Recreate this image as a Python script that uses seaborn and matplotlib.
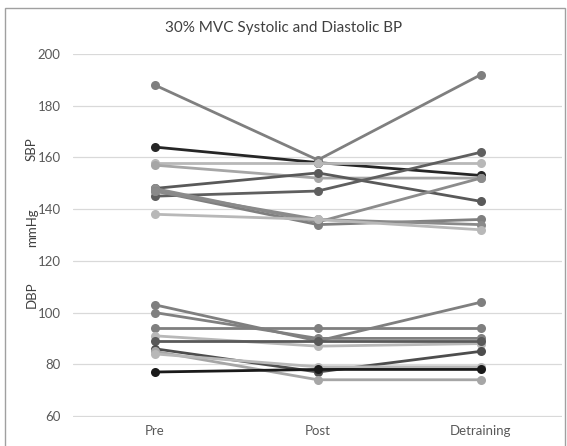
import numpy as np
import pandas as pd
import seaborn as sns
import matplotlib.pyplot as plt
from matplotlib.patches import Rectangle

# Phases on the x axis
phases = ["Pre", "Post", "Detraining"]

# Systolic BP per subject (Pre, Post, Detraining)
sbp = [
    [188, 159, 192],
    [164, 158, 153],
    [158, 158, 158],
    [157, 152, 152],
    [148, 154, 143],
    [145, 147, 162],
    [148, 135, 152],
    [147, 134, 136],
    [147, 136, 134],
    [138, 136, 132],
]
sbp_colors = ["#7f7f7f", "#262626", "#b8b8b8", "#a6a6a6", "#595959",
              "#5f5f5f", "#8c8c8c", "#7f7f7f", "#8a8a8a", "#b8b8b8"]

# Diastolic BP per subject (Pre, Post, Detraining)
dbp = [
    [103, 89, 104],
    [100, 90, 90],
    [94, 94, 94],
    [91, 87, 88],
    [89, 89, 89],
    [86, 77, 85],
    [85, 74, 74],
    [84, 79, 79],
    [77, 78, 78],
]
dbp_colors = ["#7f7f7f", "#808080", "#7f7f7f", "#b8b8b8", "#595959",
              "#4d4d4d", "#a6a6a6", "#b8b8b8", "#1a1a1a"]

# Build long table
rows = []
for i, vals in enumerate(sbp):
    for p, v in zip(phases, vals):
        rows.append({"id": f"S{i}", "phase": p, "value": v})
for i, vals in enumerate(dbp):
    for p, v in zip(phases, vals):
        rows.append({"id": f"D{i}", "phase": p, "value": v})
df = pd.DataFrame(rows)

palette = {f"S{i}": c for i, c in enumerate(sbp_colors)}
palette.update({f"D{i}": c for i, c in enumerate(dbp_colors)})

sns.set_style("white")
plt.rcParams["font.family"] = ["Lato", "DejaVu Sans"]

fig = plt.figure(figsize=(5.67, 4.46), dpi=100)
ax = fig.add_axes([0.129, 0.065, 0.863, 0.814])

sns.lineplot(data=df, x="phase", y="value", hue="id", palette=palette,
             marker="o", markersize=6.5, markeredgewidth=0, linewidth=2.0,
             legend=False, sort=False, ax=ax)

ax.set_xlim(-0.5, 2.5)
ax.set_ylim(59.6, 200)
ax.set_yticks(np.arange(60, 201, 20))
ax.grid(axis="y", color="#d9d9d9", linewidth=0.9)
ax.set_axisbelow(True)
for s in ax.spines.values():
    s.set_visible(False)
ax.tick_params(axis="y", length=0, labelsize=9.5, colors="#595959", pad=9)
ax.tick_params(axis="x", length=0, labelsize=9.5, colors="#595959", pad=6)
ax.set_xlabel("")
ax.set_ylabel("")

# Title and axis text
fig.text(0.5, 0.938, "30% MVC Systolic and Diastolic BP", ha="center",
         va="center", fontsize=11, color="#404040")
fig.text(0.056, 0.49, "mmHg", rotation=90, ha="center", va="center",
         fontsize=9.5, color="#404040")
fig.text(0.056, 0.665, "SBP", rotation=90, ha="center", va="center",
         fontsize=9.5, color="#404040")
fig.text(0.056, 0.34, "DBP", rotation=90, ha="center", va="center",
         fontsize=9.5, color="#404040")

# Chart border
fig.patches.append(Rectangle((0.009, -0.01), 0.988, 0.992, transform=fig.transFigure,
                             fill=False, edgecolor="#a0a0a0", linewidth=1.0))

fig.savefig("out.png", dpi=100)
